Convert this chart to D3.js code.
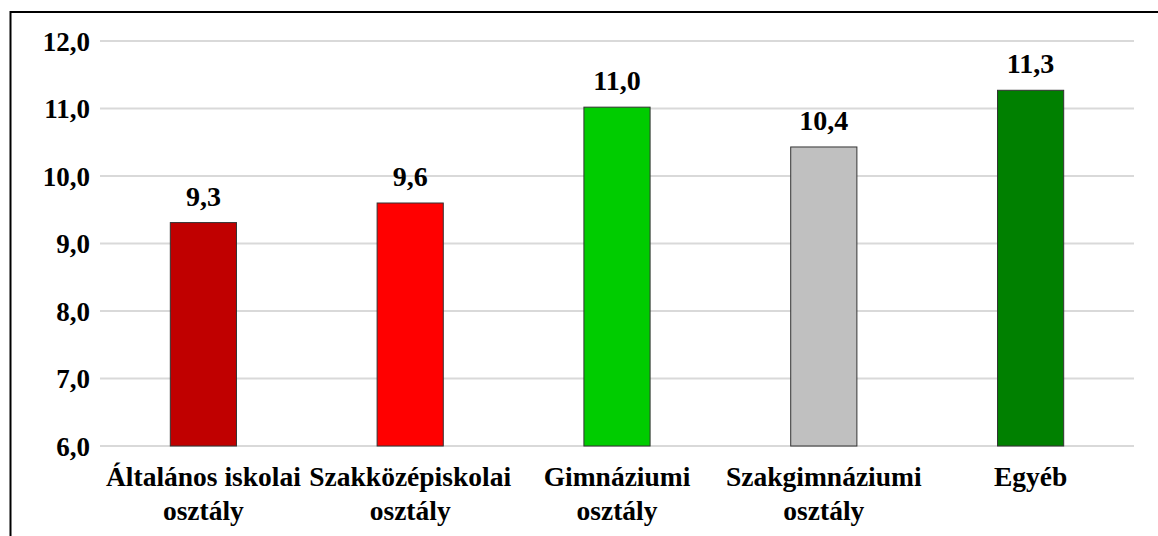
<!DOCTYPE html>
<html>
<head>
<meta charset="utf-8">
<script src="https://cdn.jsdelivr.net/npm/d3@7"></script>
<style>
    body { margin: 0; background: #fff; }
    text { font-family: "Liberation Serif", "Times New Roman", serif; font-weight: bold; fill: #000; }
</style>
</head>
<body>
<div id="chart"></div>
<script>
// chart data
var categories = [["Általános iskolai", "osztály"], ["Szakközépiskolai", "osztály"], ["Gimnáziumi", "osztály"], ["Szakgimnáziumi", "osztály"], ["Egyéb"]];
var values = [9.31, 9.6, 11.02, 10.43, 11.27];
var barColors = ["#c00000", "#ff0000", "#00cc00", "#c0c0c0", "#008000"];
var yTicks = [6, 7, 8, 9, 10, 11, 12];

(function() {
    var W = 1158, H = 536;
    var plotLeft = 100, plotRight = 1134, plotTop = 41, plotBottom = 446;

    var fmt = function(d) {return d3.format(".1f")(d).replace(".", ",");};

    var svg = d3.select("#chart").append("svg")
        .attr("width", W)
        .attr("height", H);

    // outer frame (clipped on the right and bottom like the source)
    svg.append("rect")
        .attr("x", 10.5)
        .attr("y", 12)
        .attr("width", W + 20)
        .attr("height", H + 20)
        .attr("fill", "none")
        .attr("stroke", "#000")
        .attr("stroke-width", 2);

    var x = d3.scaleBand()
        .domain(d3.range(categories.length))
        .range([plotLeft, plotRight])
        .paddingInner(0.68)
        .paddingOuter(0.34);

    var y = d3.scaleLinear()
        .domain([6, 12])
        .range([plotBottom, plotTop]);

    // gridlines
    svg.append("g")
        .selectAll("line")
        .data(yTicks)
        .enter()
        .append("line")
        .attr("x1", plotLeft)
        .attr("x2", plotRight)
        .attr("y1", function(d) {return y(d);})
        .attr("y2", function(d) {return y(d);})
        .attr("stroke", "#d9d9d9")
        .attr("stroke-width", 2);

    // y axis labels
    var yAxis = d3.axisLeft(y)
        .tickValues(yTicks)
        .tickSize(0)
        .tickPadding(10)
        .tickFormat(fmt);

    var yAxisG = svg.append("g")
        .attr("transform", "translate(" + plotLeft + ",0)")
        .call(yAxis);
    yAxisG.select(".domain").remove();
    yAxisG.attr("font-family", null).attr("font-size", null);
    yAxisG.selectAll("text")
        .attr("font-size", "27px")
        .attr("fill", "#000")
        .attr("dy", "0.34em");

    // bars
    svg.append("g")
        .selectAll("rect")
        .data(values)
        .enter()
        .append("rect")
        .attr("x", function(d, i) {return x(i);})
        .attr("y", function(d) {return y(d);})
        .attr("width", x.bandwidth())
        .attr("height", function(d) {return y(6) - y(d);})
        .attr("fill", function(d, i) {return barColors[i];})
        .attr("stroke", "#333")
        .attr("stroke-width", 1);

    // value labels
    svg.append("g")
        .selectAll("text")
        .data(values)
        .enter()
        .append("text")
        .attr("x", function(d, i) {return x(i) + x.bandwidth() / 2;})
        .attr("y", function(d) {return y(d) - 17;})
        .attr("text-anchor", "middle")
        .attr("font-size", "28px")
        .text(fmt);

    // category labels
    var cats = svg.append("g")
        .selectAll("text")
        .data(categories)
        .enter()
        .append("text")
        .attr("text-anchor", "middle")
        .attr("font-size", "27.5px");

    cats.selectAll("tspan")
        .data(function(d, i) {return d.map(function(t) {return {t: t, i: i};});})
        .enter()
        .append("tspan")
        .attr("x", function(d) {return x(d.i) + x.bandwidth() / 2;})
        .attr("y", function(d, j) {return 486 + j * 34;})
        .text(function(d) {return d.t;});
}());
</script>
</body>
</html>
